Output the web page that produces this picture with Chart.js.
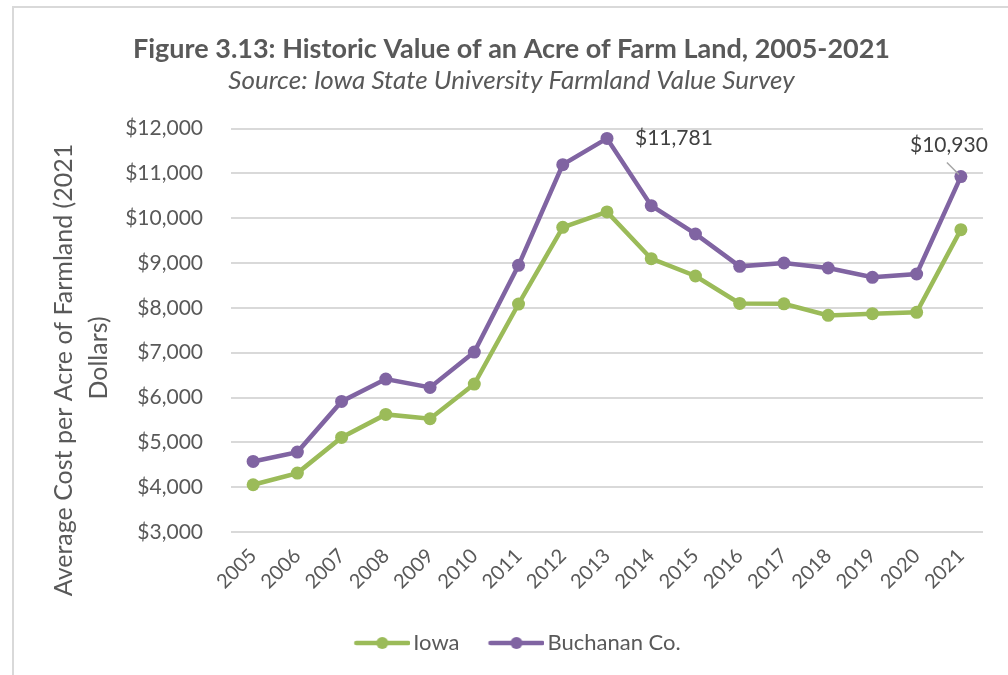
<!DOCTYPE html>
<html>
<head>
<meta charset="utf-8">
<script src="https://cdn.jsdelivr.net/npm/chart.js@4.4.1/dist/chart.umd.min.js"></script>
<style>
html,body{margin:0;padding:0;background:#fff;overflow:hidden;width:1008px;height:675px;position:relative}
#frame{position:absolute;left:12px;top:6px;width:1100px;height:800px;border-left:2px solid #d9d9d9;border-top:2px solid #d9d9d9;box-sizing:border-box;pointer-events:none}
canvas{position:absolute;left:0;top:0}
</style>
</head>
<body>
<div id="frame"></div>
<canvas id="c" width="1008" height="675"></canvas>
<script>
// ---- data ----
const years = ['2005','2006','2007','2008','2009','2010','2011','2012','2013','2014','2015','2016','2017','2018','2019','2020','2021'];
const iowa = [4054, 4314, 5110, 5624, 5527, 6301, 8086, 9798, 10140, 9098, 8711, 8100, 8090, 7833, 7870, 7900, 9746];
const buchanan = [4574, 4783, 5913, 6412, 6226, 7015, 8949, 11196, 11781, 10281, 9649, 8927, 9001, 8890, 8682, 8756, 10930];
const seriesNames = ['Iowa', 'Buchanan Co.'];
const yMin = 3000, yMax = 12000, yStep = 1000;
const titleText = 'Figure 3.13: Historic Value of an Acre of Farm Land, 2005-2021';
const subtitleText = 'Source: Iowa State University Farmland Value Survey';
const yTitleLines = ['Average Cost per Acre of Farmland (2021', 'Dollars)'];
const labeledIndices = [8, 16]; // Buchanan Co. points with value labels

// ---- styles ----
const GREEN = '#9BBB59', PURPLE = '#8064A2', TXT = '#595959', LBL = '#404040';
const FONT = "Lato, 'Open Sans', sans-serif";
const fmt = v => '$' + Number(v).toLocaleString('en-US');

function legendSymbol(color) {
  const c = document.createElement('canvas');
  c.width = 76; c.height = 14;
  const g = c.getContext('2d');
  g.strokeStyle = color; g.lineWidth = 4.5; g.lineCap = 'round';
  g.beginPath(); g.moveTo(22, 7); g.lineTo(74, 7); g.stroke();
  g.fillStyle = color; g.beginPath(); g.arc(48, 7, 6, 0, Math.PI * 2); g.fill();
  return c;
}

const yTitlePlugin = {
  id: 'yTitle',
  afterDraw(chart) {
    const ctx = chart.ctx;
    ctx.save();
    ctx.fillStyle = TXT;
    ctx.font = '25px ' + FONT;
    ctx.textAlign = 'center';
    ctx.textBaseline = 'alphabetic';
    const pos = [[72, 370], [107, 358]];
    yTitleLines.forEach((t, i) => {
      ctx.save();
      ctx.translate(pos[i][0], pos[i][1]);
      ctx.rotate(-Math.PI / 2);
      ctx.fillText(t, 0, 0);
      ctx.restore();
    });
    ctx.restore();
  }
};

const valueLabelPlugin = {
  id: 'valueLabels',
  afterDatasetsDraw(chart) {
    const ctx = chart.ctx;
    const meta = chart.getDatasetMeta(1);
    ctx.save();
    ctx.font = '21px ' + FONT;
    ctx.fillStyle = LBL;
    ctx.textBaseline = 'middle';
    labeledIndices.forEach((idx, k) => {
      const p = meta.data[idx];
      const txt = fmt(buchanan[idx]);
      if (k === 0) {
        ctx.textAlign = 'left';
        ctx.fillText(txt, p.x + 28, p.y);
      } else {
        ctx.strokeStyle = '#a6a6a6';
        ctx.lineWidth = 1.5;
        ctx.beginPath();
        ctx.moveTo(p.x - 14, p.y - 14);
        ctx.lineTo(p.x - 2, p.y - 2);
        ctx.stroke();
        ctx.textAlign = 'center';
        ctx.fillText(txt, p.x - 12, p.y - 31);
      }
    });
    ctx.restore();
  }
};

new Chart(document.getElementById('c'), {
  type: 'line',
  data: {
    labels: years,
    datasets: [
      { label: seriesNames[0], data: iowa, borderColor: GREEN, backgroundColor: GREEN, borderWidth: 4.5,
        pointRadius: 6.5, pointBackgroundColor: GREEN, pointBorderWidth: 0, tension: 0 },
      { label: seriesNames[1], data: buchanan, borderColor: PURPLE, backgroundColor: PURPLE, borderWidth: 4.5,
        pointRadius: 6.5, pointBackgroundColor: PURPLE, pointBorderWidth: 0, tension: 0 }
    ]
  },
  options: {
    responsive: false,
    animation: false,
    devicePixelRatio: 1,
    layout: { padding: { left: 15, right: 0, top: 0, bottom: 11 } },
    plugins: {
      title: { display: true, text: titleText, color: TXT,
        font: { family: FONT, size: 27, weight: 'bold' }, padding: { top: 33, bottom: 0 } },
      subtitle: { display: true, text: subtitleText, color: TXT,
        font: { family: FONT, size: 26, style: 'italic' }, padding: { top: 0, bottom: 32 } },
      legend: {
        position: 'bottom',
        labels: {
          usePointStyle: true,
          pointStyleWidth: 60,
          padding: 17,
          color: TXT,
          font: { family: FONT, size: 22 },
          generateLabels(chart) {
            return chart.data.datasets.map((ds, i) => ({
              text: ds.label,
              pointStyle: legendSymbol(ds.borderColor),
              fillStyle: ds.borderColor,
              strokeStyle: ds.borderColor,
              lineWidth: 0,
              hidden: false,
              datasetIndex: i,
              fontColor: TXT
            }));
          }
        }
      },
      tooltip: { enabled: false }
    },
    scales: {
      x: {
        offset: true,
        grid: { display: false, drawTicks: false },
        border: { display: false },
        ticks: { color: TXT, font: { family: FONT, size: 20 }, minRotation: 45, maxRotation: 45, padding: 12, autoSkip: false },
        afterFit(s) { s.height = 83; }
      },
      y: {
        min: yMin, max: yMax,
        grid: { color: '#d9d9d9', lineWidth: 2, drawTicks: false },
        border: { display: false },
        ticks: { stepSize: yStep, color: TXT, font: { family: FONT, size: 21 }, padding: 28, callback: v => fmt(v) },
        afterFit(s) { s.width = 216; }
      },
      yRight: {
        position: 'right',
        display: true,
        grid: { display: false, drawTicks: false },
        border: { display: false },
        ticks: { display: false },
        afterFit(s) { s.width = 25; }
      }
    }
  },
  plugins: [yTitlePlugin, valueLabelPlugin]
});
</script>
</body>
</html>
